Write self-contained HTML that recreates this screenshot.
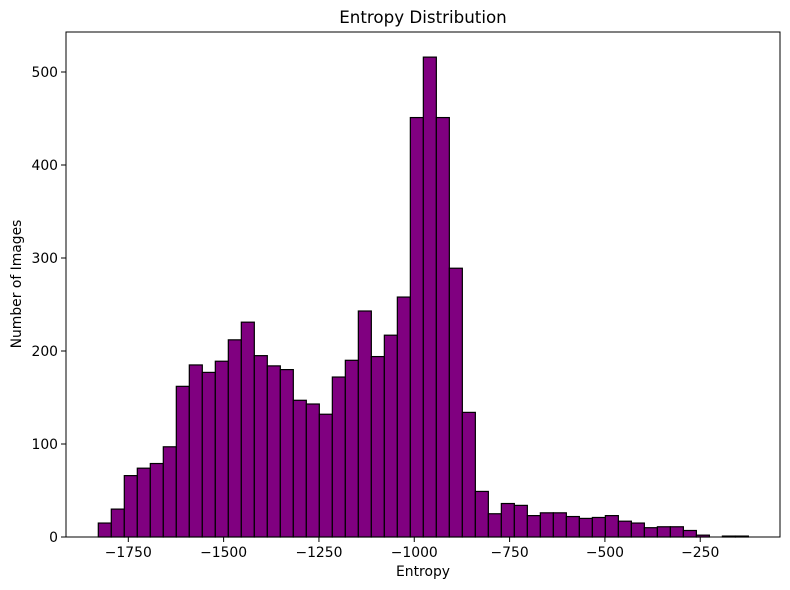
<!DOCTYPE html>
<html><head><meta charset="utf-8"><style>
body{margin:0;background:#fff;}
svg{display:block;font-family:"DejaVu Sans","Liberation Sans",sans-serif;}
</style></head><body>
<svg id="chart" width="790" height="590"></svg>
<script>
const binStart = -1828.7;
const binWidth = 34.1;
const counts = [15,30,66,74,79,97,162,185,177,189,212,231,195,184,180,147,143,132,172,190,243,194,217,258,451,516,451,289,134,49,25,36,34,23,26,26,22,20,21,23,17,15,10,11,11,7,2,0,1,1];
const xTicks = [-1750,-1500,-1250,-1000,-750,-500,-250];
const yTicks = [0,100,200,300,400,500];

const L=66,R=780,T=32,B=537;
const xMin=-1913.4,xMax=-40.8,yMax=543;
const xs=v=>L+(v-xMin)/(xMax-xMin)*(R-L);
const ys=v=>B-v/yMax*(B-T);
const svg=document.getElementById('chart');
const NS='http://www.w3.org/2000/svg';
function mk(tag,attrs,parent){const e=document.createElementNS(NS,tag);for(const k in attrs)e.setAttribute(k,attrs[k]);(parent||svg).appendChild(e);return e;}

const bars=mk('g',{});


counts.forEach((c,i)=>{
  const x0=xs(binStart+i*binWidth),x1=xs(binStart+(i+1)*binWidth);
  const r=mk('rect',{x:x0,y:ys(c),width:x1-x0,height:ys(0)-ys(c),fill:'#800080',stroke:'#000','stroke-width':1.2},bars);
  
  
});

const frame=mk('rect',{x:L,y:T,width:R-L,height:B-T,fill:'none',stroke:'#000','stroke-width':1});



xTicks.forEach(t=>{
  const x=xs(t);
  mk('line',{x1:x,x2:x,y1:B,y2:B+5,stroke:'#000'});
  const tx=mk('text',{x:x,y:B+20,'text-anchor':'middle','font-size':13.9});
  tx.textContent=String(t).replace('-','\u2212');
  
  
});
yTicks.forEach(t=>{
  const y=ys(t);
  mk('line',{x1:L-5,x2:L,y1:y,y2:y,stroke:'#000'});
  const tx=mk('text',{x:L-8,y:y+5,'text-anchor':'end','font-size':13.9});
  tx.textContent=t;
  
  
});
</script>
<div style="position:absolute;left:0;top:0;width:790px;height:590px;pointer-events:none;font-family:'DejaVu Sans','Liberation Sans',sans-serif;">
  <div style="position:absolute;left:0;width:846px;top:7px;text-align:center;font-size:16.7px;">Entropy Distribution</div>
  <div style="position:absolute;left:0;width:846px;top:564px;text-align:center;font-size:13.9px;">Entropy</div>
  <div style="position:absolute;left:17px;top:284px;font-size:13.9px;transform:translate(-50%,-50%) rotate(-90deg);white-space:nowrap;">Number of Images</div>
</div>
</body></html>
